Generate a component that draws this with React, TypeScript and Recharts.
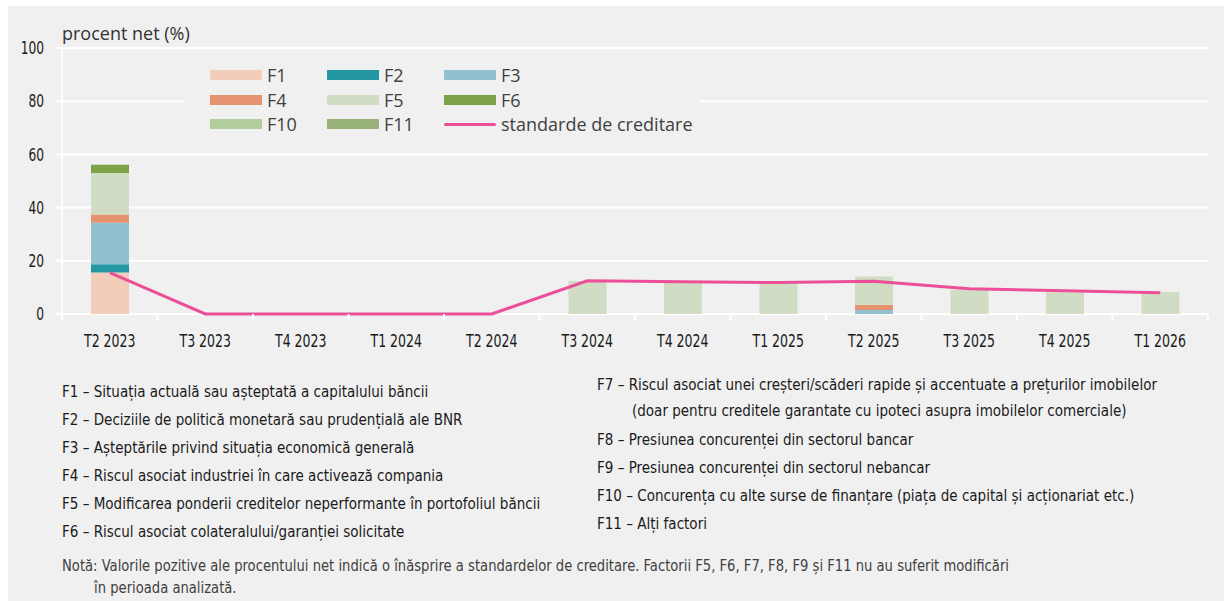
import React from 'react';
import { ComposedChart, Bar, Line, XAxis, YAxis, CartesianGrid, Legend } from 'recharts';

const categories = ['T2 2023', 'T3 2023', 'T4 2023', 'T1 2024', 'T2 2024', 'T3 2024', 'T4 2024', 'T1 2025', 'T2 2025', 'T3 2025', 'T4 2025', 'T1 2026'];

const f1 = [15.6, 0, 0, 0, 0, 0, 0, 0, 0, 0, 0, 0];
const f2 = [3.1, 0, 0, 0, 0, 0, 0, 0, 0, 0, 0, 0];
const f3 = [15.6, 0, 0, 0, 0, 0, 0, 0, 1.5, 0, 0, 0];
const f4 = [3.1, 0, 0, 0, 0, 0, 0, 0, 2.0, 0, 0, 0];
const f5 = [15.6, 0, 0, 0, 0, 12.4, 11.9, 11.7, 10.6, 9.1, 8.2, 8.3];
const f6 = [3.1, 0, 0, 0, 0, 0, 0, 0, 0, 0, 0, 0];
const f10 = [0, 0, 0, 0, 0, 0, 0, 0, 0, 0, 0, 0];
const f11 = [0, 0, 0, 0, 0, 0, 0, 0, 0, 0, 0, 0];
const standarde = [15.6, 0, 0, 0, 0, 12.5, 12.1, 11.8, 12.3, 9.5, 8.7, 8.0];

const yTicks = [0, 20, 40, 60, 80, 100];

const factors = [
  { key: 'F1', values: f1, color: '#f3cdb9' },
  { key: 'F2', values: f2, color: '#2397a2' },
  { key: 'F3', values: f3, color: '#91c1cf' },
  { key: 'F4', values: f4, color: '#e69372' },
  { key: 'F5', values: f5, color: '#d0dcc4' },
  { key: 'F6', values: f6, color: '#7ca348' },
  { key: 'F10', values: f10, color: '#b2cc9c' },
  { key: 'F11', values: f11, color: '#99b37a' },
];
const lineColor = '#ec4f98';

const notesLeft = [
  'F1 – Situația actuală sau așteptată a capitalului băncii',
  'F2 – Deciziile de politică monetară sau prudențială ale BNR',
  'F3 – Așteptările privind situația economică generală',
  'F4 – Riscul asociat industriei în care activează compania',
  'F5 – Modificarea ponderii creditelor neperformante în portofoliul băncii',
  'F6 – Riscul asociat colateralului/garanției solicitate',
];
const notesRight = [
  'F7 – Riscul asociat unei creșteri/scăderi rapide și accentuate a prețurilor imobilelor',
  '(doar pentru creditele garantate cu ipoteci asupra imobilelor comerciale)',
  'F8 – Presiunea concurenței din sectorul bancar',
  'F9 – Presiunea concurenței din sectorul nebancar',
  'F10 – Concurența cu alte surse de finanțare (piața de capital și acționariat etc.)',
  'F11 – Alți factori',
];

const data = categories.map((c, i) => {
  const row: any = { cat: c, standarde: standarde[i] };
  factors.forEach((f) => { row[f.key] = f.values[i]; });
  return row;
});

const W = 1216;
const H = 360;
const margin = { top: 42, right: 16, left: 14, bottom: 10 };
const yAxisW = 40;
const xAxisH = 42;
const plotW = W - margin.left - margin.right - yAxisW;
const band = plotW / categories.length;
const condensed = '"Liberation Sans Narrow", "DejaVu Sans Condensed", sans-serif';
const regular = '"Open Sans", Lato, sans-serif';

const XTick = (props: any) => {
  const { x, payload, index } = props;
  const axisY = H - margin.bottom - xAxisH;
  return (
    <g>
      <line x1={x - band / 2} x2={x - band / 2} y1={axisY} y2={axisY + 6} stroke="#fff" strokeWidth={2} />
      {index === categories.length - 1 && (
        <line x1={x + band / 2} x2={x + band / 2} y1={axisY} y2={axisY + 6} stroke="#fff" strokeWidth={2} />
      )}
      <text
        transform={`translate(${x},${axisY + 33}) scale(0.82,1)`}
        textAnchor="middle"
        fill="#1a1a1a"
        fontSize={17}
        fontFamily={condensed}
      >
        {payload.value}
      </text>
    </g>
  );
};

const YTick = (props: any) => {
  const { x, y, payload } = props;
  return (
    <text
      transform={`translate(${x},${y}) scale(0.8,1)`}
      dy="0.36em"
      textAnchor="end"
      fill="#1a1a1a"
      fontSize={17}
      fontFamily={condensed}
    >
      {payload.value}
    </text>
  );
};

const legendItems = [
  ...factors.map((f) => ({ label: f.key, color: f.color, line: false })),
  { label: 'standarde de creditare', color: lineColor, line: true },
];

const LegendBox = () => (
  <div style={{ position: 'relative', width: 515, height: 78, background: '#f0f0f0' }}>
    {legendItems.map((it, i) => {
      const col = i % 3;
      const row = Math.floor(i / 3);
      const left = 25 + col * 117;
      const cy = 13 + row * 24.5;
      return (
        <div key={it.label}>
          <div
            style={{
              position: 'absolute',
              left,
              top: it.line ? cy - 1.5 : cy - 5,
              width: 52,
              height: it.line ? 3 : 10,
              background: it.color,
              borderRadius: it.line ? 2 : 0,
            }}
          />
          <div
            style={{
              position: 'absolute',
              left: left + 57,
              top: cy - 11,
              lineHeight: '22px',
              fontSize: 18,
              fontFamily: regular,
              color: '#404040',
              whiteSpace: 'nowrap',
            }}
          >
            {it.label}
          </div>
        </div>
      );
    })}
  </div>
);

const noteStyle: React.CSSProperties = {
  position: 'absolute',
  fontFamily: condensed,
  fontSize: 16.5,
  lineHeight: '20px',
  color: '#1a1a1a',
  whiteSpace: 'nowrap',
  transform: 'scaleX(0.91)',
  transformOrigin: '0 0',
};

export default function App() {
  return (
    <div style={{ position: 'absolute', left: 8, top: 6, width: W, height: 595, background: '#f0f0f0', overflow: 'hidden' }}>
      <div style={{ position: 'absolute', left: 54, top: 16, fontFamily: regular, fontSize: 18, color: '#333', lineHeight: '22px' }}>
        procent net (%)
      </div>
      <ComposedChart width={W} height={H} data={data} margin={margin} barCategoryGap={0}>
        <CartesianGrid horizontal vertical={false} stroke="#fff" strokeWidth={2} />
        <XAxis
          dataKey="cat"
          height={xAxisH}
          axisLine={false}
          tickLine={false}
          tick={<XTick />}
          interval={0}
        />
        <YAxis
          width={yAxisW}
          domain={[0, 100]}
          ticks={yTicks}
          interval={0}
          axisLine={{ stroke: '#fff', strokeWidth: 2 }}
          tickLine={{ stroke: '#fff', strokeWidth: 2 }}
          tickSize={7}
          tickMargin={11}
          tick={<YTick />}
        />
        <Legend
          layout="horizontal"
          verticalAlign="middle"
          align="center"
          content={<LegendBox />}
          wrapperStyle={{ position: 'absolute', left: 177, top: 56, width: 515, height: 78 }}
        />
        {factors.map((f) => (
          <Bar key={f.key} dataKey={f.key} stackId="s" fill={f.color} barSize={38} isAnimationActive={false} />
        ))}
        <Line
          type="linear"
          dataKey="standarde"
          stroke={lineColor}
          strokeWidth={3}
          dot={false}
          activeDot={false}
          isAnimationActive={false}
        />
      </ComposedChart>
      {notesLeft.map((t, i) => (
        <div key={t} style={{ ...noteStyle, left: 54, top: 376 + i * 28 }}>{t}</div>
      ))}
      {notesRight.map((t, i) => (
        <div
          key={t}
          style={{ ...noteStyle, left: i === 1 ? 624 : 589, top: i < 2 ? 369 + i * 26 : 424 + (i - 2) * 28 }}
        >
          {t}
        </div>
      ))}
      <div style={{ ...noteStyle, left: 54, top: 550, fontSize: 15, color: '#404040', transform: 'scaleX(0.975)' }}>
        Notă: Valorile pozitive ale procentului net indică o înăsprire a standardelor de creditare. Factorii F5, F6, F7, F8, F9 și F11 nu au suferit modificări
      </div>
      <div style={{ ...noteStyle, left: 86, top: 572, fontSize: 15, color: '#404040', transform: 'scaleX(0.975)' }}>
        în perioada analizată.
      </div>
    </div>
  );
}
